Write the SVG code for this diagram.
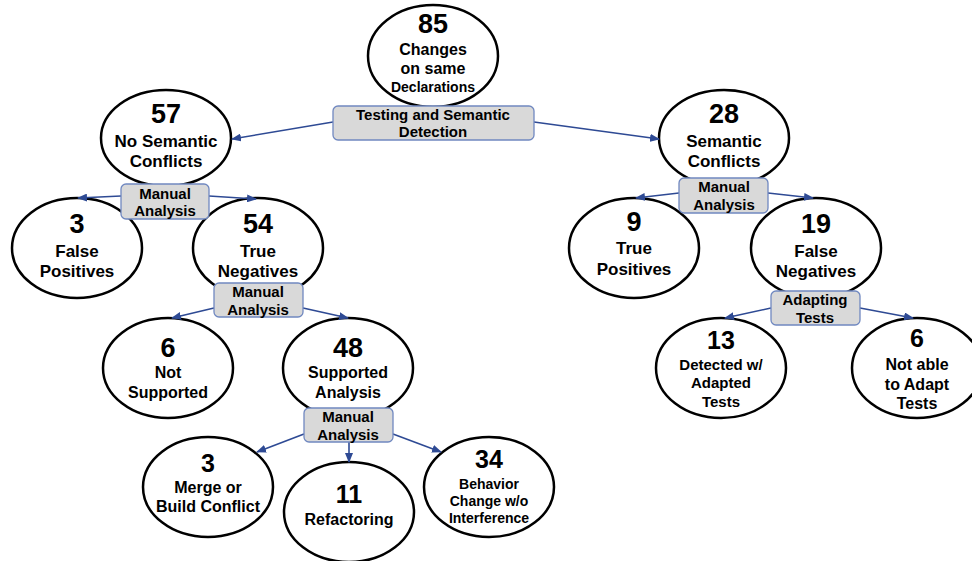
<svg xmlns="http://www.w3.org/2000/svg" width="972" height="561" viewBox="0 0 972 561">
<defs>
<style>
.node{fill:#ffffff;stroke:#000000;stroke-width:2.5}
.box{fill:#d9d9d9;stroke:#7088c0;stroke-width:1.3}
.conn{stroke:#2e4a94;stroke-width:1.6;fill:none;marker-end:url(#arr)}
text{font-family:"Liberation Sans",Arial,sans-serif;font-weight:bold;fill:#000;text-anchor:middle}
.num{font-size:27px}
.num2{font-size:25px}
.l17{font-size:17px}
.l16{font-size:16px}
.l15{font-size:15px}
.l14{font-size:14px}
</style>
<marker id="arr" markerWidth="10" markerHeight="8" refX="9" refY="4" orient="auto" markerUnits="userSpaceOnUse">
<path d="M0,0 L10,4 L0,8 Z" fill="#2e4a94"/>
</marker>
</defs>
<rect width="972" height="561" fill="#ffffff"/>

<g id="n85">
<ellipse class="node" cx="433" cy="56" rx="65" ry="51"/>
<text class="num" x="433" y="33">85</text>
<text class="l16" x="433" y="55">Changes</text>
<text class="l16" x="433" y="74">on same</text>
<text class="l14" x="433" y="92">Declarations</text>
</g>
<g id="n57">
<ellipse class="node" cx="166" cy="138" rx="65" ry="48"/>
<text class="num" x="166" y="123">57</text>
<text class="l17" x="166" y="147">No Semantic</text>
<text class="l17" x="166" y="167">Conflicts</text>
</g>
<g id="n28">
<ellipse class="node" cx="724" cy="138" rx="65" ry="48"/>
<text class="num" x="724" y="123">28</text>
<text class="l17" x="724" y="147">Semantic</text>
<text class="l17" x="724" y="167">Conflicts</text>
</g>
<g id="n3fp">
<ellipse class="node" cx="77" cy="248" rx="65" ry="50"/>
<text class="num" x="77" y="233">3</text>
<text class="l17" x="77" y="257">False</text>
<text class="l17" x="77" y="277">Positives</text>
</g>
<g id="n54">
<ellipse class="node" cx="258" cy="248" rx="65" ry="50"/>
<text class="num" x="258" y="233">54</text>
<text class="l17" x="258" y="257">True</text>
<text class="l17" x="258" y="277">Negatives</text>
</g>
<g id="n9">
<ellipse class="node" cx="634" cy="248" rx="65" ry="50"/>
<text class="num" x="634" y="231">9</text>
<text class="l17" x="634" y="254">True</text>
<text class="l17" x="634" y="275">Positives</text>
</g>
<g id="n19">
<ellipse class="node" cx="816" cy="248" rx="65" ry="50"/>
<text class="num" x="816" y="233">19</text>
<text class="l17" x="816" y="257">False</text>
<text class="l17" x="816" y="277">Negatives</text>
</g>
<g id="n6ns">
<ellipse class="node" cx="168" cy="368" rx="65" ry="50"/>
<text class="num" x="168" y="357">6</text>
<text class="l16" x="168" y="378">Not</text>
<text class="l16" x="168" y="398">Supported</text>
</g>
<g id="n48">
<ellipse class="node" cx="348" cy="368" rx="65" ry="50"/>
<text class="num" x="348" y="357">48</text>
<text class="l16" x="348" y="378">Supported</text>
<text class="l16" x="348" y="398">Analysis</text>
</g>
<g id="n13">
<ellipse class="node" cx="721" cy="368" rx="65" ry="50"/>
<text class="num2" x="721" y="349">13</text>
<text class="l15" x="721" y="370">Detected w/</text>
<text class="l15" x="721" y="388">Adapted</text>
<text class="l15" x="721" y="407">Tests</text>
</g>
<g id="n6na">
<ellipse class="node" cx="917" cy="368" rx="65" ry="50"/>
<text class="num2" x="917" y="347">6</text>
<text class="l16" x="917" y="370">Not able</text>
<text class="l16" x="917" y="390">to Adapt</text>
<text class="l16" x="917" y="409">Tests</text>
</g>
<g id="n3mb">
<ellipse class="node" cx="208" cy="487" rx="65" ry="50"/>
<text class="num2" x="208" y="472">3</text>
<text class="l16" x="208" y="493">Merge or</text>
<text class="l16" x="208" y="512">Build Conflict</text>
</g>
<g id="n11">
<ellipse class="node" cx="349" cy="512" rx="65" ry="50"/>
<text class="num2" x="349" y="503">11</text>
<text class="l16" x="349" y="525">Refactoring</text>
</g>
<g id="n34">
<ellipse class="node" cx="489" cy="487" rx="65" ry="50"/>
<text class="num2" x="489" y="468">34</text>
<text class="l14" x="489" y="489">Behavior</text>
<text class="l14" x="489" y="506">Change w/o</text>
<text class="l14" x="489" y="523">Interference</text>
</g>

<g id="connectors">
<line class="conn" x1="333" y1="122" x2="232" y2="139"/>
<line class="conn" x1="534" y1="122" x2="659" y2="139"/>
<line class="conn" x1="121" y1="196" x2="78" y2="198"/>
<line class="conn" x1="209" y1="196" x2="256" y2="199"/>
<line class="conn" x1="679" y1="193" x2="636" y2="198"/>
<line class="conn" x1="768" y1="193" x2="813" y2="198"/>
<line class="conn" x1="214" y1="308" x2="172" y2="318"/>
<line class="conn" x1="303" y1="308" x2="348" y2="318"/>
<line class="conn" x1="771" y1="308" x2="725" y2="318"/>
<line class="conn" x1="860" y1="308" x2="913" y2="318"/>
<line class="conn" x1="304" y1="434" x2="257" y2="452"/>
<line class="conn" x1="349" y1="442" x2="349" y2="462"/>
<line class="conn" x1="393" y1="434" x2="441" y2="452"/>
</g>

<g id="lbl-testing">
<rect class="box" x="333" y="106" width="201" height="34" rx="5"/>
<text class="l15" x="433" y="120">Testing and Semantic</text>
<text class="l15" x="433" y="137">Detection</text>
</g>
<g id="lbl-manual57">
<rect class="box" x="121" y="184" width="88" height="35" rx="5"/>
<text class="l15" x="165" y="199">Manual</text>
<text class="l15" x="165" y="216">Analysis</text>
</g>
<g id="lbl-manual28">
<rect class="box" x="679" y="178" width="89" height="35" rx="5"/>
<text class="l15" x="724" y="192">Manual</text>
<text class="l15" x="724" y="210">Analysis</text>
</g>
<g id="lbl-manual54">
<rect class="box" x="214" y="283" width="89" height="34" rx="5"/>
<text class="l15" x="258" y="297">Manual</text>
<text class="l15" x="258" y="315">Analysis</text>
</g>
<g id="lbl-adapting">
<rect class="box" x="771" y="291" width="89" height="34" rx="5"/>
<text class="l15" x="815" y="305">Adapting</text>
<text class="l15" x="815" y="323">Tests</text>
</g>
<g id="lbl-manual48">
<rect class="box" x="304" y="408" width="89" height="34" rx="5"/>
<text class="l15" x="348" y="422">Manual</text>
<text class="l15" x="348" y="440">Analysis</text>
</g>
</svg>
